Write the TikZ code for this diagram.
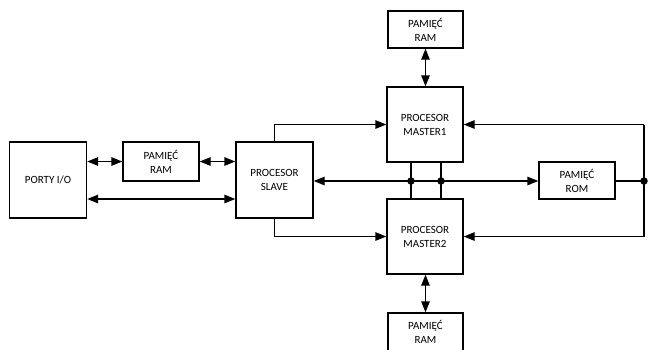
\documentclass[tikz,border=0pt]{standalone}
\usepackage{fontspec}
\setmainfont{Carlito}
\usetikzlibrary{arrows.meta,calc}
\begin{document}
\begin{tikzpicture}[x=1pt,y=-1pt,
  blk/.style={draw,line width=1.4pt,align=center,inner sep=0pt,font=\fontsize{11}{14}\selectfont},
  conn/.style={line width=1.4pt},
  tip/.style={-{Triangle[length=11pt,width=8.5pt]}},
  dtip/.style={{Triangle[length=11pt,width=8.5pt]}-{Triangle[length=11pt,width=8.5pt]}},
  dot/.style={circle,fill,inner sep=0pt,minimum size=7.5pt}]
\useasboundingbox (0,0) rectangle (648,349);
\node[blk,minimum width=77pt,minimum height=76pt] (porty) at (48,180) {PORTY I/O};
\node[blk,minimum width=76pt,minimum height=39pt] (ramL) at (161,161.5) {PAMIĘĆ\\RAM};
\node[blk,minimum width=77pt,minimum height=76pt] (slave) at (274.5,180) {PROCESOR\\SLAVE};
\node[blk,minimum width=75pt,minimum height=37pt] (ramT) at (425.5,29.5) {PAMIĘĆ\\RAM};
\node[blk,minimum width=76pt,minimum height=75pt] (m1) at (425,124.5) {PROCESOR\\MASTER1};
\node[blk,minimum width=76pt,minimum height=75pt] (m2) at (425,236.5) {PROCESOR\\MASTER2};
\node[blk,minimum width=75pt,minimum height=38pt] (ramB) at (425.5,332) {PAMIĘĆ\\RAM};
\node[blk,minimum width=76pt,minimum height=37pt] (rom) at (577,180.5) {PAMIĘĆ\\ROM};
\node[dot] (d1) at (411,181) {};
\node[dot] (d2) at (441,181) {};
\node[dot] (d3) at (644,181) {};
\coordinate (rt) at (644,124.5);
\coordinate (rb) at (644,236.5);
% left side
\draw[conn,dtip] (porty.east |- ramL.west) -- (ramL.west);
\draw[conn,dtip] (ramL.east) -- (slave.west |- ramL.east);
\draw[conn,dtip] ($(porty.east)+(0,19)$) -- ($(slave.west)+(0,19)$);
\draw[conn,tip] (slave.north) |- (m1.west);
\draw[conn,tip] (slave.south) |- (m2.west);
% rams
\draw[conn,dtip] (ramT.south) -- (ramT.south |- m1.north);
\draw[conn,dtip] (m2.south -| ramB.north) -- (ramB.north);
% bus
\draw[conn] (d1 |- m1.south) -- (d1 |- m2.north);
\draw[conn] (d2 |- m1.south) -- (d2 |- m2.north);
\draw[conn,tip] (d1.center) -- (slave.east |- d1);
\draw[conn] (d1.center) -- (d2.center);
\draw[conn,tip] (d2.center) -- (rom.west |- d2);
\draw[conn] (rom.east |- d3) -- (d3.center);
\draw[conn] (rt) -- (rb);
\draw[conn,tip] (rt) -- (m1.east);
\draw[conn,tip] (rb) -- (m2.east);
\end{tikzpicture}
\end{document}
